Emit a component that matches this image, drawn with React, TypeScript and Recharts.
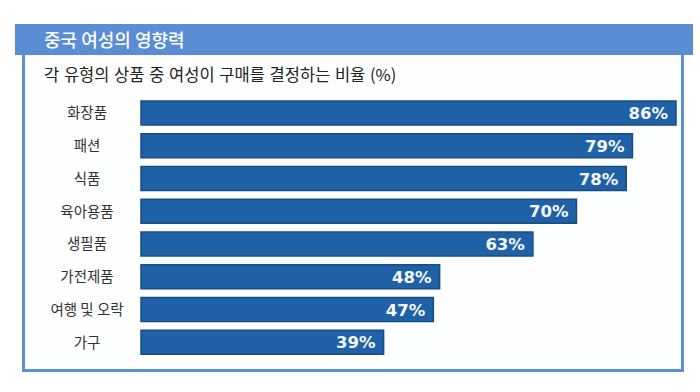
import { Bar, BarChart, LabelList, XAxis, YAxis } from 'recharts';

const categories = ['화장품', '패션', '식품', '육아용품', '생필품', '가전제품', '여행 및 오락', '가구'];
const shares = [86, 79, 78, 70, 63, 48, 47, 39];

const data = categories.map((name, i) => ({ name, share: shares[i] }));

const KR_FONT = '"Noto Sans CJK KR", "Noto Sans", sans-serif';

function CategoryTick(props: any) {
  const { y, payload } = props;
  return (
    <text x={87} y={y} dy={5} textAnchor="middle" fontSize={14.5} fill="#333" fontFamily={KR_FONT}>
      {payload.value}
    </text>
  );
}

function ValueLabel(props: any) {
  const { x, y, width, height, value } = props;
  return (
    <text
      x={x + width - 8}
      y={y + height / 2}
      dy={6}
      textAnchor="end"
      fontSize={16.5}
      fontWeight="bold"
      fill="#f4f8fc"
      fontFamily='"DejaVu Sans", sans-serif'
    >
      {value}%
    </text>
  );
}

export default function App() {
  return (
    <div style={{ position: 'fixed', left: 0, top: 0, width: 700, height: 392, background: '#fff', overflow: 'hidden' }}>
      {/* header band */}
      <div
        style={{
          position: 'absolute', left: 15, top: 24, width: 678, height: 31,
          background: '#5a8dd4', color: '#fff', fontFamily: KR_FONT, fontSize: 18,
          fontWeight: 500, lineHeight: '31px', paddingLeft: 29, boxSizing: 'border-box',
        }}
      >
        중국 여성의 영향력
      </div>
      {/* frame */}
      <div
        style={{
          position: 'absolute', left: 22, top: 55, width: 662, height: 317,
          borderLeft: '3px solid #5b8fd6', borderRight: '3px solid #5b8fd6',
          borderBottom: '3px solid #5b8fd6', boxSizing: 'border-box', background: '#fdfefe',
        }}
      />
      <div
        style={{
          position: 'absolute', left: 44, top: 62, fontFamily: KR_FONT, fontSize: 16.5, color: '#222',
          wordSpacing: 1,
        }}
      >
        각 유형의 상품 중 여성이 구매를 결정하는 비율 (%)
      </div>
      <div style={{ position: 'absolute', left: 0, top: 0 }}>
        <BarChart
          width={700}
          height={392}
          data={data}
          layout="vertical"
          margin={{ top: 97, right: 24, bottom: 33, left: 0 }}
          barSize={24}
        >
          <XAxis type="number" domain={[0, 86]} hide />
          <YAxis
            type="category"
            dataKey="name"
            width={141}
            axisLine={false}
            tickLine={false}
            tick={<CategoryTick />}
            interval={0}
          />
          <Bar dataKey="share" fill="#1f61a7" stroke="#184c84" strokeWidth={1.5} isAnimationActive={false}>
            <LabelList dataKey="share" content={<ValueLabel />} />
          </Bar>
        </BarChart>
      </div>
    </div>
  );
}
